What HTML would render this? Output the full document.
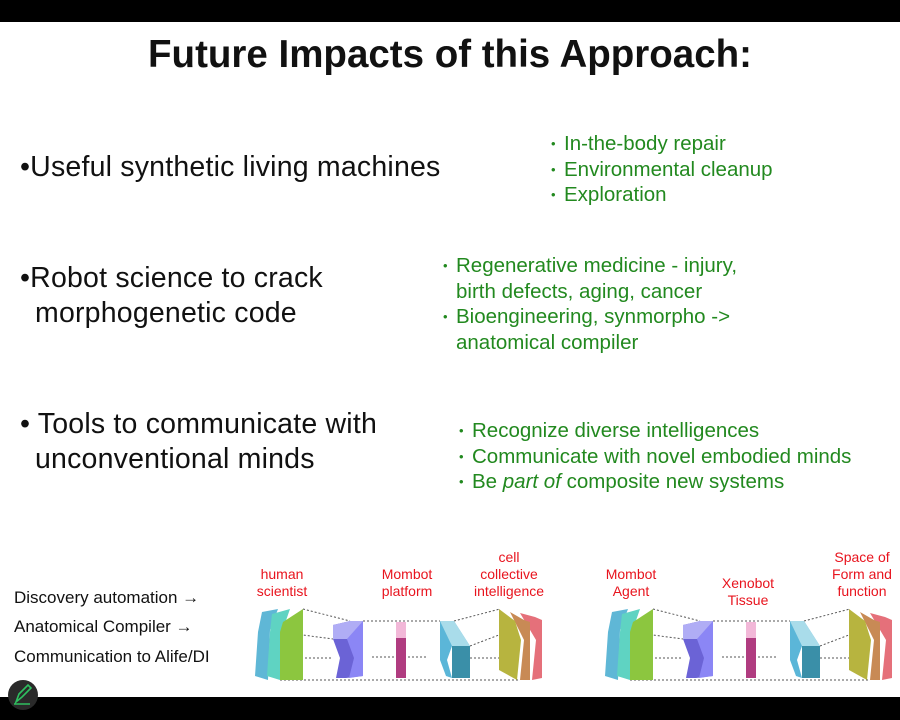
<!DOCTYPE html>
<html><head><meta charset="utf-8"><style>
body{margin:0;width:900px;height:720px;background:#fff;position:relative;overflow:hidden;font-family:"Liberation Sans",Arial,sans-serif}
.t{position:absolute;white-space:nowrap}
.b{font-size:28.5px;color:#111;line-height:35px;letter-spacing:0.2px}
.b .c{padding-left:15px}
.g{font-size:20.5px;color:#22891f;line-height:25.5px}
.g div{position:relative;padding-left:0}
.g span.d{position:absolute;left:-13px;font-size:13px}
.r{font-size:14px;color:#e8141e;text-align:center;line-height:17px}
.k{font-size:17px;color:#111}
</style></head><body>
<div style="position:absolute;left:0;top:0;width:900px;height:22px;background:#000"></div>
<div style="position:absolute;left:0;top:697px;width:900px;height:23px;background:#000"></div>
<div class="t" style="left:0;width:900px;text-align:center;top:33px;font-size:38.5px;font-weight:bold;color:#111">Future Impacts of this Approach:</div>
<div class="t b" style="left:20px;top:150px">•Useful synthetic living machines</div>
<div class="t b" style="left:20px;top:261px"><div>•Robot science to crack</div><div class="c">morphogenetic code</div></div>
<div class="t b" style="left:20px;top:407px"><div>• Tools to communicate with</div><div class="c">unconventional minds</div></div>
<div class="t g" style="left:564px;top:131px"><div><span class="d">•</span>In-the-body repair</div><div><span class="d">•</span>Environmental cleanup</div><div><span class="d">•</span>Exploration</div></div>
<div class="t g" style="left:456px;top:253px"><div><span class="d">•</span>Regenerative medicine - injury,</div><div>birth defects, aging, cancer</div><div><span class="d">•</span>Bioengineering, synmorpho -&gt;</div><div>anatomical compiler</div></div>
<div class="t g" style="left:472px;top:418px"><div><span class="d">•</span>Recognize diverse intelligences</div><div><span class="d">•</span>Communicate with novel embodied minds</div><div><span class="d">•</span>Be <i>part of</i> composite new systems</div></div>
<div class="t k" style="left:14px;top:588px">Discovery automation →</div>
<div class="t k" style="left:14px;top:617px">Anatomical Compiler →</div>
<div class="t k" style="left:14px;top:647px">Communication to Alife/DI</div>
<div class="t r" style="left:242px;width:80px;top:566px">human<br>scientist</div>
<div class="t r" style="left:367px;width:80px;top:566px">Mombot<br>platform</div>
<div class="t r" style="left:464px;width:90px;top:549px">cell<br>collective<br>intelligence</div>
<div class="t r" style="left:591px;width:80px;top:566px">Mombot<br>Agent</div>
<div class="t r" style="left:708px;width:80px;top:575px">Xenobot<br>Tissue</div>
<div class="t r" style="left:822px;width:80px;top:549px">Space of<br>Form and<br>function</div>
<svg width="900" height="720" style="position:absolute;left:0;top:0">
<defs><g id="d">
<g stroke="#555" stroke-width="1" stroke-dasharray="2,2" fill="none">
<line x1="303" y1="609" x2="350" y2="621"/><line x1="280" y1="632" x2="333" y2="639"/>
<line x1="285" y1="658" x2="333" y2="658"/><line x1="280" y1="680" x2="520" y2="680"/>
<line x1="363" y1="621" x2="440" y2="621"/><line x1="372" y1="657" x2="428" y2="657"/>
<line x1="454" y1="621" x2="500" y2="609"/><line x1="470" y1="646" x2="512" y2="630"/>
<line x1="470" y1="658" x2="504" y2="658"/>
</g>
<polygon points="262,612 278,609 270,630 268,680 255,676 258,632" fill="#5fb7d6"/>
<polygon points="272,614 290,609 282,632 280,680 267,676 270,632" fill="#5fd3c2"/>
<polygon points="283,622 303,609 303,680 280,680 280,632" fill="#8cc63f"/>
<polygon points="333,625 350,621 363,621 363,676 346,678 336,678 340,658 333,639" fill="#6b63d6"/>
<polygon points="350,621 363,621 363,676 349,678 354,658 347,639" fill="#8b86f5"/>
<polygon points="333,625 350,621 363,621 347,639 333,639" fill="#b0adf5"/>
<rect x="396" y="622" width="10" height="16" fill="#f2b8d8"/>
<rect x="396" y="638" width="10" height="40" fill="#b03c80"/>
<polygon points="440,621 454,621 470,646 452,646 447,660 452,678 446,676 440,660" fill="#5bb6d8"/>
<polygon points="440,621 454,621 470,646 452,646" fill="#a9dcea"/>
<rect x="452" y="646" width="18" height="32" fill="#3a8fa8"/>
<polygon points="520,613 535,617 542,620 542,678 532,680 536,640" fill="#e5707a"/>
<polygon points="510,612 524,620 530,622 530,680 520,680 524,640" fill="#c88a55"/>
<polygon points="499,609 515,621 521,640 517,680 499,670" fill="#b7b43f"/>
</g></defs>
<use href="#d"/><use href="#d" x="350"/>
<circle cx="23" cy="695" r="15" fill="#2a2a2a"/>
<path d="M16 702 L19 694 L28 685 L31 688 L22 697 Z M14 704 H30" stroke="#2fc060" stroke-width="1.6" fill="none"/>
</svg>
</body></html>
